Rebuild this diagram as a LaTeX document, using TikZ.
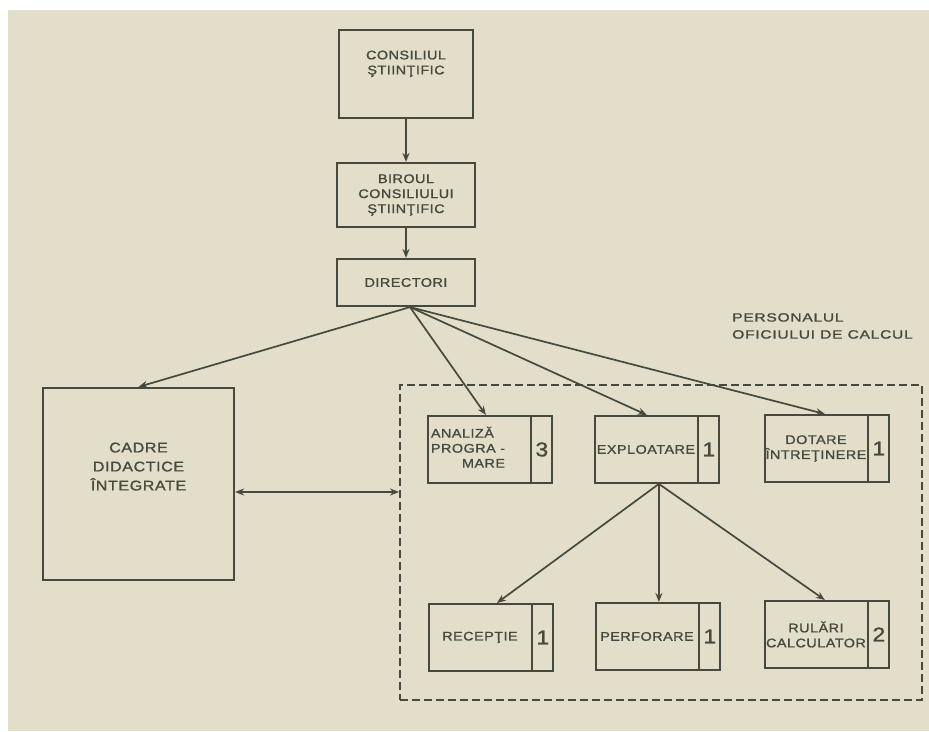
\documentclass[tikz,border=0pt]{standalone}
\usepackage{fontspec}
\setmainfont{Liberation Sans}
\newfontfamily\hand[FakeStretch=1.15,LetterSpace=4,FakeBold=1.2]{Liberation Sans}
\newfontfamily\handwide[FakeStretch=1.3,LetterSpace=6,FakeBold=1.2]{Liberation Sans}
\usetikzlibrary{arrows.meta,shapes.multipart,calc}
\definecolor{paper}{RGB}{226,222,202}
\definecolor{ink}{RGB}{70,74,62}
\newcommand\mpart[1]{\parbox[c][67pt][c]{102pt}{\centering #1}}
\newcommand\npart[1]{\parbox[c][67pt][c]{20pt}{\centering\fontsize{20}{20}\selectfont #1}}
\begin{document}
\begin{tikzpicture}[x=1pt,y=-1pt,
  box/.style={draw=ink, line width=2.2pt, rectangle, inner sep=0pt, text=ink,
    font=\hand\fontsize{12.5}{15}\selectfont, align=center},
  numbox/.style={box, line width=1.9pt, rectangle split, rectangle split horizontal,
    rectangle split parts=2, anchor=north west},
  arr/.style={draw=ink, line width=1.7pt, -{Stealth[length=9pt,width=7pt]}},
  dblarr/.style={draw=ink, line width=1.7pt, {Stealth[length=9pt,width=7pt]}-{Stealth[length=9pt,width=7pt]}},
  dashbox/.style={draw=ink, line width=1.9pt, dash pattern=on 8pt off 4pt, rectangle, inner sep=0pt}]
\fill[white] (0,0) rectangle (929,731);
\fill[paper] (8,10) rectangle (929,731);
\useasboundingbox (0,0) rectangle (929,731);

% top chain
\node[box, minimum width=134pt, minimum height=88pt] (cons) at (406,74)
  {CONSILIUL\\ŞTIINŢIFIC\\[8pt]};
\node[box, minimum width=138pt, minimum height=64pt] (bir) at (406,195)
  {BIROUL\\CONSILIULUI\\ŞTIINŢIFIC};
\node[box, minimum width=138pt, minimum height=47pt] (dir) at (406,282.5)
  {DIRECTORI};

% left box
\node[box, minimum width=191pt, minimum height=192pt, font=\hand\fontsize{14}{19}\selectfont] (cad) at (138.5,484)
  {CADRE\\DIDACTICE\\ÎNTEGRATE\\[16pt]};

% dashed group
\node[dashbox, minimum width=522pt, minimum height=315pt] (ofi) at (661,542.5) {};
\node[anchor=north west, text=ink, align=left, inner sep=0pt,
  font=\handwide\fontsize{12}{17}\selectfont] (lbl) at (732,313)
  {PERSONALUL\\OFICIULUI DE CALCUL};

% numbered boxes
\node[numbox] (ana) at (427,415) {\parbox[c][67pt][c]{102pt}{\hspace*{3pt}\begin{tabular}{@{}l@{}}ANALIZĂ\\PROGRA -\\\multicolumn{1}{@{}r@{}}{MARE}\end{tabular}}\nodepart{two}\npart{3}};
\node[numbox] (exp) at (594,415) {\mpart{EXPLOATARE}\nodepart{two}\npart{1}};
\node[numbox] (dot) at (764,414) {\mpart{DOTARE\\ÎNTREŢINERE}\nodepart{two}\npart{1}};
\node[numbox] (rec) at (428,603) {\mpart{RECEPŢIE}\nodepart{two}\npart{1}};
\node[numbox] (perf) at (595,602) {\mpart{PERFORARE}\nodepart{two}\npart{1}};
\node[numbox] (rul) at (764,600) {\mpart{RULĂRI\\CALCULATOR}\nodepart{two}\npart{2}};

% connectors
\draw[arr] (cons) -- (bir);
\draw[arr] (bir) -- (dir);
\coordinate (ds) at ($(dir.south)+(4,0)$);
\draw[arr] (ds) -- (cad.north);
\draw[arr] (ds) -- ($(ana.north)+(-4,0)$);
\draw[arr] (ds) -- ($(exp.north)+(-10,0)$);
\draw[arr] (ds) -- ($(dot.north)+(-2,0)$);
\coordinate (es) at ($(exp.south)+(2,0)$);
\draw[arr] (es) -- ($(rec.north)+(6,0)$);
\draw[arr] (es) -- (es |- perf.north);
\draw[arr] (es) -- ($(rul.north)+(-2,0)$);
\coordinate (dl) at ($(cad.east)+(0,8)$);
\draw[dblarr] (dl) -- (dl -| ofi.west);
\end{tikzpicture}
\end{document}
